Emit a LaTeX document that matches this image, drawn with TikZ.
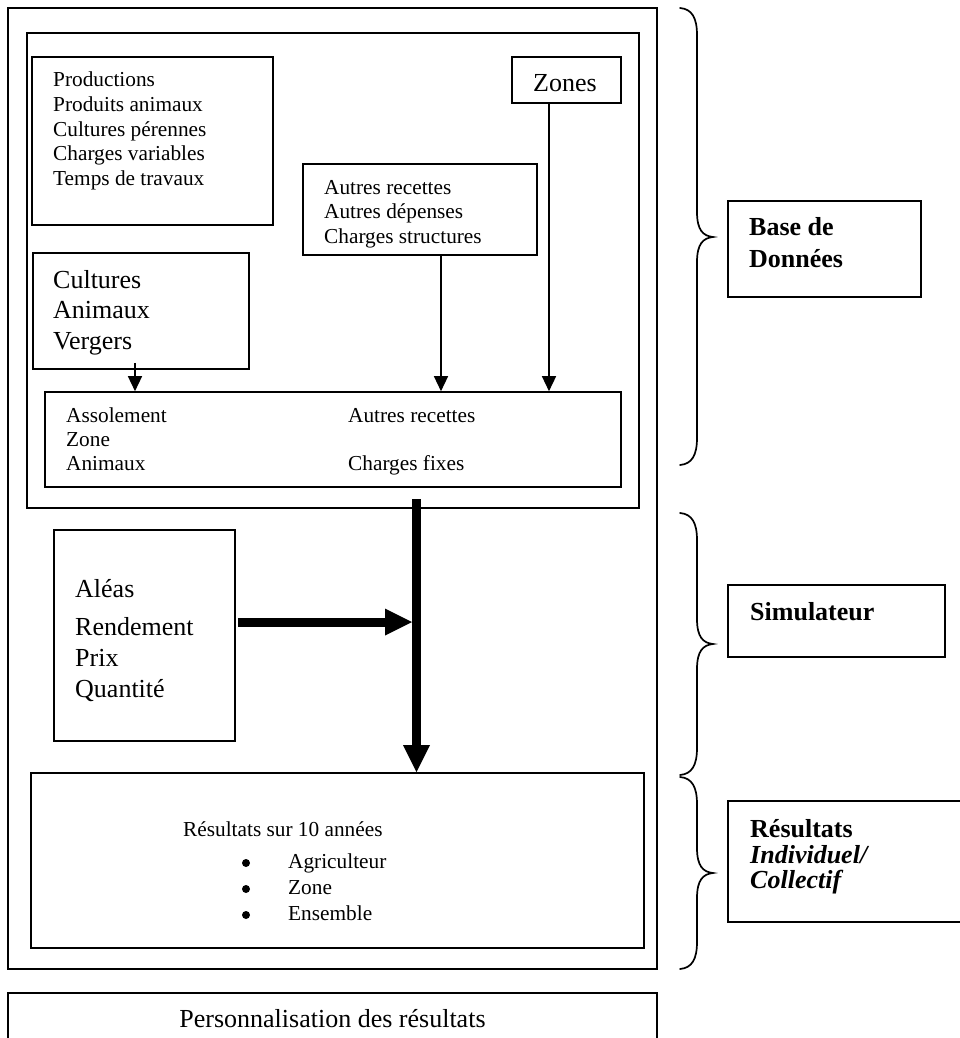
\documentclass[tikz,border=0pt]{standalone}
\usepackage{fontspec}
\setmainfont{Liberation Serif}
\usetikzlibrary{arrows.meta,fit}
\newcommand\ften{\fontsize{21.3}{24}\selectfont}
\newcommand\ftw{\fontsize{26}{30}\selectfont}
\newcommand\drawbrace[3]{\draw[bracestyle] (680,#1) .. controls (692,#1+1) and (697,#1+10) .. (697,#1+27) -- (697,#2-25) .. controls (697,#2-7) and (703,#2-1) .. (713,#2) .. controls (703,#2+1) and (697,#2+7) .. (697,#2+25) -- (697,#3-27) .. controls (697,#3-10) and (692,#3-1) .. (680,#3);}
\begin{document}
\begin{tikzpicture}[x=1pt,y=-1pt,
 box/.style={draw, line width=1.6pt, inner sep=0pt},
 bigbox/.style={box, line width=1.9pt},
 txt/.style={inner sep=0pt, anchor=base west, font=\ften},
 txtb/.style={txt, font=\ftw},
 boldtxt/.style={txt, font=\ftw\bfseries},
 bulletdot/.style={circle, fill, inner sep=0pt, minimum size=8pt},
 thinarrow/.style={line width=1.4pt, -{Triangle[length=15pt,width=14pt]}},
 fatarrow/.style={line width=9pt, -{Triangle[length=27pt,width=27pt,line width=0pt]}},
 bracestyle/.style={line width=1.7pt, line cap=round}
]
\useasboundingbox (0,0) rectangle (960,1038);
\clip (0,0) rectangle (960,1038);

% boxes
\node[bigbox, fit={(8,8) (657,969)}] (outer) {};
\node[bigbox, fit={(27,33) (639,508)}] (inner) {};
\node[box, fit={(32,57) (273,225)}] (prod) {};
\node[box, fit={(512,57) (621,103)}] (zones) {};
\node[box, fit={(303,164) (537,255)}] (autres) {};
\node[box, fit={(33,253) (249,369)}] (cult) {};
\node[box, fit={(45,392) (621,487)}] (asso) {};
\node[box, fit={(54,530) (235,741)}] (alea) {};
\node[box, fit={(31,773) (644,948)}] (res) {};
\node[bigbox, fit={(8,993) (657,1070)}] (perso) {};
\node[box, fit={(728,201) (921,297)}] (bdd) {};
\node[box, fit={(728,585) (945,657)}] (simu) {};
\node[box, fit={(728,801) (985,922)}] (resl) {};

% texts
\foreach \t [count=\i] in {Productions, Produits animaux, Cultures pérennes, Charges variables, Temps de travaux}
  \node[txt] (p\i) at (53,{87+24.5*(\i-1)}) {\t};
\node[txtb] (zt) at (533,92) {Zones};
\foreach \t [count=\i] in {Autres recettes, Autres dépenses, Charges structures}
  \node[txt] (a\i) at (324,{194+24.5*(\i-1)}) {\t};
\foreach \t [count=\i] in {Cultures, Animaux, Vergers}
  \node[txtb] (c\i) at (53,{288+30.5*(\i-1)}) {\t};
\foreach \t [count=\i] in {Assolement, Zone, Animaux}
  \node[txt] (s\i) at (66,{422+24*(\i-1)}) {\t};
\node[txt] (s4) at (348,422) {Autres recettes};
\node[txt] (s5) at (348,470) {Charges fixes};
\node[txtb] (al1) at (75,597) {Aléas};
\node[txtb] (al2) at (75,635) {Rendement};
\node[txtb] (al3) at (75,666) {Prix};
\node[txtb] (al4) at (75,697) {Quantité};
\node[txt] (r0) at (183,836) {Résultats sur 10 années};
\foreach \t [count=\i] in {Agriculteur, Zone, Ensemble}{
  \node[bulletdot] (b\i) at (246,{863+26*(\i-1)}) {};
  \node[txt] (r\i) at (288,{868+26*(\i-1)}) {\t};
}
\node[inner sep=0pt, anchor=base, font=\ftw] (pt) at (332.5,1027) {Personnalisation des résultats};
\node[boldtxt] (bd1) at (749,235) {Base de};
\node[boldtxt] (bd2) at (749,267) {Données};
\node[boldtxt] (si) at (750,620) {Simulateur};
\node[boldtxt] (rl1) at (750,837) {Résultats};
\node[boldtxt] (rl2) at (750,863) {\itshape Individuel/};
\node[boldtxt] (rl3) at (750,888) {\itshape Collectif};

% thin arrows
\coordinate (ca) at (135,0);
\coordinate (aa) at (441,0);
\coordinate (za) at (549,0);
\draw[thinarrow] ([yshift=7pt]cult.south -| ca) -- (asso.north -| ca);
\draw[thinarrow] (autres.south -| aa) -- (asso.north -| aa);
\draw[thinarrow] (zones.south -| za) -- (asso.north -| za);

% thick arrows
\coordinate (ts) at (416.5,499);
\draw[fatarrow] (ts) -- (ts |- res.north);
\coordinate (hj) at (412,622);
\draw[fatarrow] ([xshift=2pt]alea.east |- hj) -- (hj);

% braces
\drawbrace{8}{237}{465}
\drawbrace{513}{644}{775}
\drawbrace{777}{873}{969}
\end{tikzpicture}
\end{document}
